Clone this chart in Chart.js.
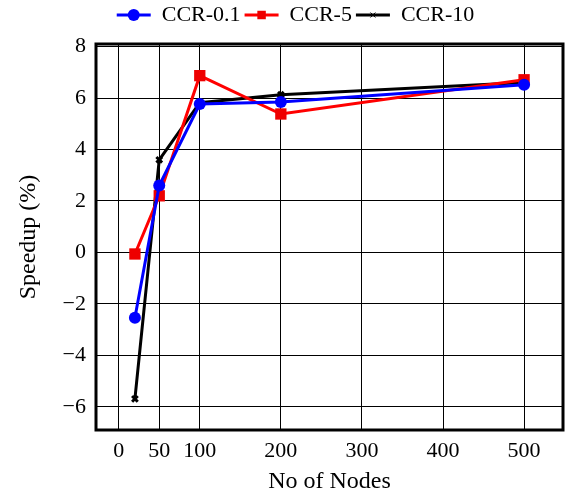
<!DOCTYPE html>
<html>
<head>
<meta charset="utf-8">
<script src="https://cdn.jsdelivr.net/npm/chart.js@4"></script>
<style>
  html, body { margin: 0; padding: 0; background: #fff; }
  #wrap { width: 579px; height: 500px; }
</style>
</head>
<body>
<div id="wrap"><canvas id="chart" width="579" height="500"></canvas></div>
<script>
const nodes = [20, 50, 100, 200, 500];
const ccr01 = [-2.54, 2.6, 5.77, 5.85, 6.52];
const ccr5 = [-0.06, 2.2, 6.87, 5.38, 6.71];
const ccr10 = [-5.69, 3.6, 5.82, 6.13, 6.6];
const xTicks = [0, 50, 100, 200, 300, 400, 500];
const yTicks = [-6, -4, -2, 0, 2, 4, 6, 8];

const serif = "'Liberation Serif', 'Times New Roman', serif";

function pts(ys) {
    return nodes.map((x, i) => ({ x: x, y: ys[i] }));
}

// thick frame around the plot
const frame = {
    id: 'frame',
    afterDraw(chart) {
        const a = chart.chartArea, c = chart.ctx;
        c.save();
        c.lineWidth = 3;
        c.strokeStyle = '#000';
        c.strokeRect(a.left, a.top, a.right - a.left, a.bottom - a.top);
        c.restore();
    }
};

// fixed legend height + markers on the legend lines
const legendExtras = {
    id: 'legendExtras',
    beforeInit(chart) {
        const fit = chart.legend.fit;
        chart.legend.fit = function () {
            fit.call(this);
            this.height = 44;
        };
    },
    afterDraw(chart) {
        const lg = chart.legend, c = chart.ctx;
        const bw = lg.options.labels.boxWidth;
        lg.legendHitBoxes.forEach((hb, i) => {
            const ds = chart.data.datasets[i];
            c.save();
            c.fillStyle = ds.backgroundColor;
            c.strokeStyle = ds.borderColor;
            const cross = ds.pointStyle === 'crossRot';
            Chart.helpers.drawPoint(c, {
                pointStyle: ds.pointStyle,
                radius: cross ? 3.5 : 6,
                borderWidth: cross ? 2.5 : 0,
                rotation: 0
            }, hb.left + bw / 2, hb.top + hb.height / 2);
            c.restore();
        });
    }
};

const ctx = document.querySelector('#chart');

const chart = new Chart(ctx.getContext('2d'), {
    type: 'line',
    data: {
        datasets: [
            {
                label: 'CCR-0.1',
                data: pts(ccr01),
                borderColor: '#0000ff',
                backgroundColor: '#0000ff',
                borderWidth: 3,
                pointStyle: 'circle',
                pointRadius: 6,
                pointBorderWidth: 0,
            },
            {
                label: 'CCR-5',
                data: pts(ccr5),
                borderColor: '#ff0000',
                backgroundColor: '#ee0000',
                borderWidth: 3,
                pointStyle: 'rect',
                pointRadius: 8,
                pointBorderWidth: 0,
            },
            {
                label: 'CCR-10',
                data: pts(ccr10),
                borderColor: '#000000',
                backgroundColor: '#000000',
                borderWidth: 3,
                pointStyle: 'crossRot',
                pointRadius: 4,
                pointBorderWidth: 3,
            }
        ]
    },
    options: {
        responsive: false,
        animation: false,
        layout: { padding: { top: 0, right: 16, bottom: 0, left: 28 } },
        scales: {
            x: {
                type: 'linear',
                min: -28,
                max: 548,
                afterBuildTicks: s => { s.ticks = xTicks.map(v => ({ value: v })); },
                afterFit: s => { s.height = 70; },
                grid: { color: '#000', lineWidth: 1, drawTicks: false },
                border: { display: false },
                ticks: {
                    color: '#000',
                    padding: 8,
                    maxRotation: 0,
                    font: { family: serif, size: 22 },
                },
                title: {
                    display: true,
                    text: 'No of Nodes',
                    color: '#000',
                    padding: { top: 2 },
                    font: { family: serif, size: 24 },
                }
            },
            y: {
                min: -6.9,
                max: 8.1,
                afterBuildTicks: s => { s.ticks = yTicks.map(v => ({ value: v })); },
                afterFit: s => { s.width = 68; },
                grid: { color: '#000', lineWidth: 1, drawTicks: false },
                border: { display: false },
                ticks: {
                    color: '#000',
                    padding: 10,
                    font: { family: serif, size: 22 },
                    callback: v => String(v).replace('-', '\u2212'),
                },
                title: {
                    display: true,
                    text: 'Speedup (%)',
                    color: '#000',
                    padding: { top: -14, bottom: 0 },
                    font: { family: serif, size: 24 },
                }
            }
        },
        plugins: {
            legend: {
                position: 'top',
                labels: {
                    color: '#000',
                    boxWidth: 34,
                    boxHeight: 3,
                    padding: 4,
                    font: { family: serif, size: 22 },
                    generateLabels: c => c.data.datasets.map((d, i) => ({
                        text: d.label,
                        fillStyle: d.borderColor,
                        strokeStyle: d.borderColor,
                        lineWidth: 0,
                        datasetIndex: i,
                    })),
                }
            },
            tooltip: { enabled: false }
        }
    },
    plugins: [frame, legendExtras]
});
</script>
</body>
</html>
